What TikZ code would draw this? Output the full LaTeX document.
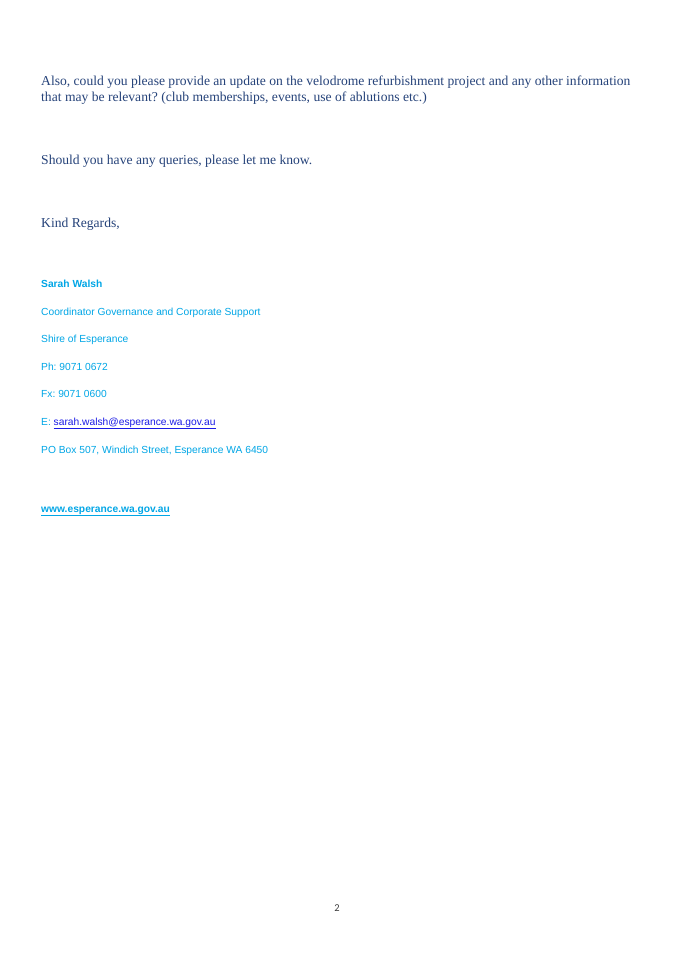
\documentclass[tikz,border=0pt]{standalone}
\usepackage{fontspec}
\setmainfont{Liberation Serif}
\newfontfamily\arialfont{Liberation Sans}
\newfontfamily\calfont{Carlito}
\definecolor{bodyblue}{HTML}{26437A}
\definecolor{sigcyan}{HTML}{00A6E6}
\definecolor{linkblue}{HTML}{1A1AE6}
\definecolor{pggray}{HTML}{404040}
\frenchspacing
\tikzset{
  bodytext/.style={anchor=base west, inner sep=0pt, text=bodyblue, font=\fontsize{13.6}{16}\selectfont},
  sigtext/.style={anchor=base west, inner sep=0pt, text=sigcyan, font=\arialfont\fontsize{10.25}{12}\selectfont},
  sigbold/.style={sigtext, font=\arialfont\bfseries\fontsize{10.25}{12}\selectfont},
}
\begin{document}
\begin{tikzpicture}[x=1pt,y=1pt]
\useasboundingbox[fill=white] (0,0) rectangle (675,-955);
\node[bodytext] (l1) at (41,-86) {Also, could you please provide an update on the velodrome refurbishment project and any other information};
\node[bodytext] (l2) at (41,-102) {that may be relevant? (club memberships, events, use of ablutions etc.)};
\node[bodytext] (l3) at (41,-164) {Should you have any queries, please let me know.};
\node[bodytext] (l4) at (41,-227) {Kind Regards,};
\node[sigbold] (s1) at (41,-287) {Sarah Walsh};
\node[sigtext] (s2) at (41,-315) {Coordinator Governance and Corporate Support};
\node[sigtext] (s3) at (41,-342) {Shire of Esperance};
\node[sigtext] (s4) at (41,-370) {Ph: 9071 0672};
\node[sigtext] (s5) at (41,-397) {Fx: 9071 0600};
\node[sigtext] (s6) at (41,-425) {E: \textcolor{linkblue}{\underline{sarah.walsh@esperance.wa.gov.au}}};
\node[sigtext] (s7) at (41,-453) {PO Box 507, Windich Street, Esperance WA 6450};
\node[sigbold] (s8) at (41,-512) {\underline{www.esperance.wa.gov.au}};
\node[anchor=base, inner sep=0pt, text=pggray, font=\calfont\fontsize{10.5}{12}\selectfont] (pg) at (337,-911) {2};
\end{tikzpicture}
\end{document}
